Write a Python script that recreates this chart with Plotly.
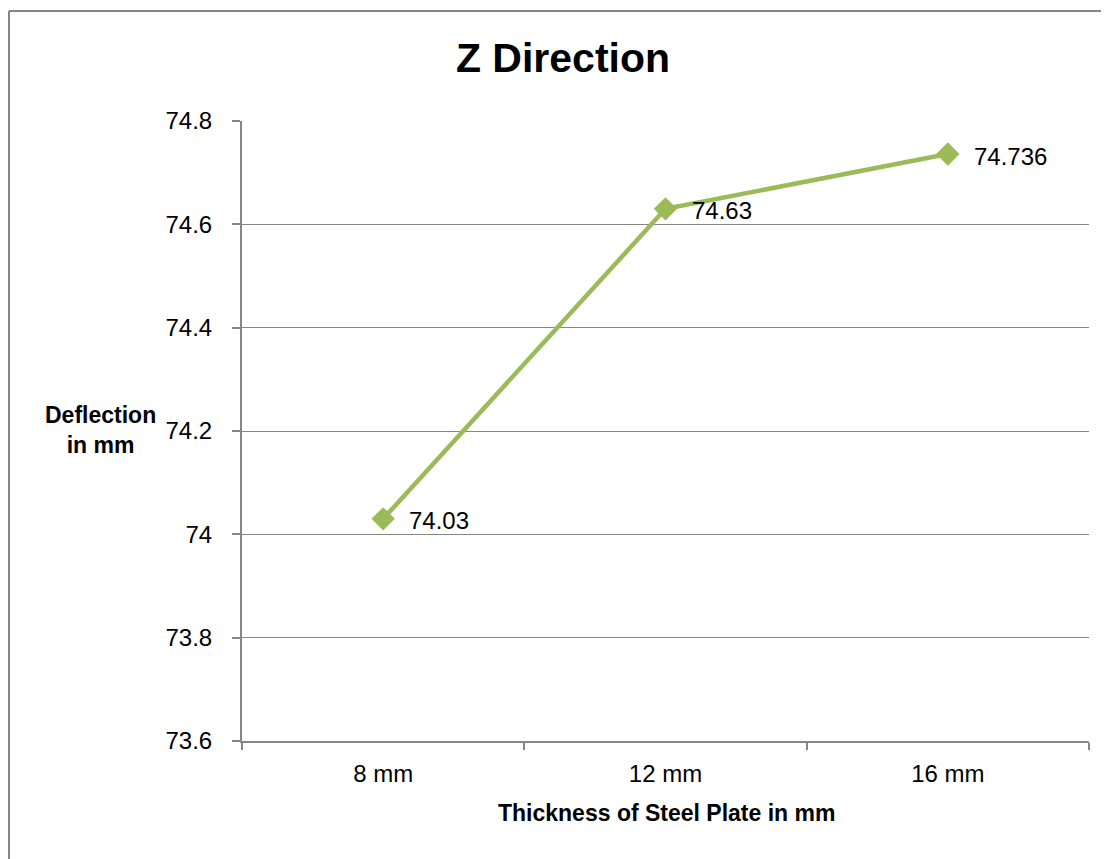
import plotly.graph_objects as go

categories = ["8 mm", "12 mm", "16 mm"]
deflection = [74.03, 74.63, 74.736]
y_ticks = [73.6, 73.8, 74.0, 74.2, 74.4, 74.6, 74.8]
y_tick_labels = ["73.6", "73.8", "74", "74.2", "74.4", "74.6", "74.8"]

# page is offset by the browser's 8px body margin
OFF = 8
W, H = 1109 - OFF, 859 - OFF
L, R, T, B = 242 - OFF, 20, 121 - OFF, 118
pw, ph = W - L - R, H - T - B

def px(x):
    return (x - OFF - L) / pw

def py(y):
    return 1 - (y - OFF - T) / ph

green = "#9BBB59"
grey = "#868686"
font = "Liberation Sans, Arial, sans-serif"

fig = go.Figure()
fig.add_trace(go.Scatter(
    x=categories, y=deflection,
    mode="lines+markers",
    line=dict(color=green, width=4.5),
    marker=dict(symbol="diamond", size=18, color=green),
    cliponaxis=False,
    showlegend=False,
))

label_annotations = [
    dict(text=str(v), x=c, y=v, xref="x", yref="y",
         xanchor="left", yanchor="middle", xshift=24, yshift=-2,
         showarrow=False, font=dict(family=font, size=24, color="#000000"))
    for c, v in zip(categories, deflection)
]

fig.update_layout(
    width=W, height=H,
    margin=dict(l=L, r=R, t=T, b=B),
    paper_bgcolor="white", plot_bgcolor="white",
    title=dict(text="<b>Z Direction</b>", x=(563 - OFF) / W, xanchor="center",
               y=1 - (58 - OFF) / H, yanchor="middle",
               font=dict(family=font, size=41, color="#000000")),
    xaxis=dict(type="category", range=[-0.5, 2.5], tickson="boundaries",
               ticks="outside", ticklen=7, tickcolor=grey, tickwidth=2,
               showline=True, linecolor=grey, linewidth=2,
               showgrid=False, zeroline=False,
               tickfont=dict(family=font, size=24, color="#000000"),
               ticklabelstandoff=10),
    yaxis=dict(range=[73.6, 74.8], tickvals=y_ticks, ticktext=y_tick_labels,
               ticks="outside", ticklen=8, tickcolor=grey, tickwidth=2,
               showline=True, linecolor=grey, linewidth=2,
               showgrid=True, gridcolor=grey, gridwidth=1, zeroline=False,
               tickfont=dict(family=font, size=24, color="#000000"),
               ticklabelstandoff=15),
    annotations=label_annotations + [
        dict(text="<b>Deflection<br>in mm</b>", xref="paper", yref="paper",
             x=px(100), y=py(430), xanchor="center", yanchor="middle",
             showarrow=False, align="center",
             font=dict(family=font, size=23, color="#000000")),
        dict(text="<b>Thickness of Steel Plate in mm</b>", xref="paper", yref="paper",
             x=px(666), y=py(813), xanchor="center", yanchor="middle",
             showarrow=False,
             font=dict(family=font, size=23, color="#000000")),
    ],
    shapes=[
        dict(type="line", xref="paper", yref="paper", x0=px(9), x1=px(9),
             y0=py(11), y1=py(880), line=dict(color=grey, width=2)),
        dict(type="line", xref="paper", yref="paper", x0=px(9), x1=px(1130),
             y0=py(11), y1=py(11), line=dict(color=grey, width=2)),
    ],
)

fig.write_html("out.html")
